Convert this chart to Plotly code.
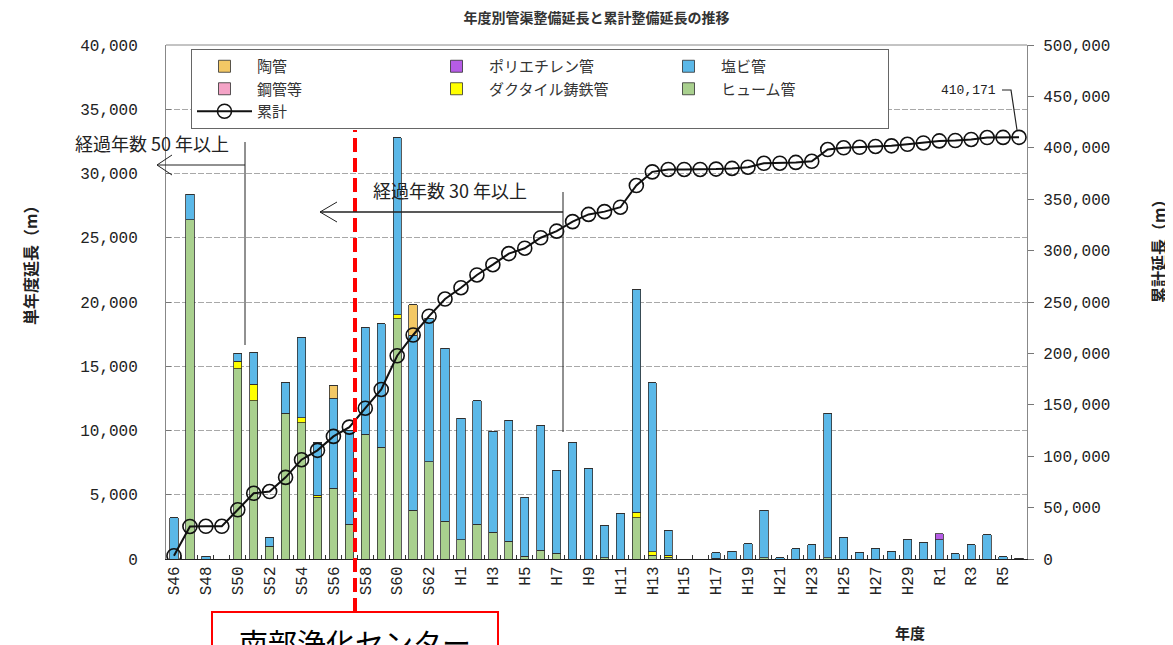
"""年度別管渠整備延長と累計整備延長の推移 (Plotly)."""

import plotly.graph_objects as go

# ---- data -----------------------------------------------------------------
YEARS = (
    [f"S{n}" for n in range(46, 64)]
    + [f"H{n}" for n in range(1, 31)]
    + [f"R{n}" for n in range(1, 7)]
)

# 単年度延長 (m) by pipe material
HUME = [0, 26400, 0, 0, 14800, 12300, 1000, 11350, 10600, 4800,
        5500, 2700, 9700, 8700, 18700, 3800, 7550, 2950,
        1500, 2700, 2100, 1400, 230, 700, 450, 0, 0, 100,
        0, 3200, 300, 150, 0, 0, 50, 0, 0, 100,
        0, 0, 0, 100, 0, 0, 0, 0, 0, 0,
        0, 0, 0, 0, 0, 0]
DUCTILE = [0, 0, 0, 0, 600, 1300, 0, 0, 400, 150,
           0, 0, 0, 0, 300, 0, 0, 0,
           0, 0, 0, 0, 0, 0, 0, 0, 0, 0,
           0, 450, 250, 150, 0, 0, 0, 0, 0, 0,
           0, 0, 0, 0, 0, 0, 0, 0, 0, 0,
           0, 0, 0, 0, 0, 0]
STEEL = [0] * 54
PVC = [3200, 2000, 200, 0, 600, 2500, 700, 2400, 6200, 4150,
       7000, 7300, 8350, 9600, 13800, 13600, 11200, 13450,
       9450, 9600, 7850, 9400, 4590, 9700, 6400, 9100, 7080, 2470,
       3580, 17350, 13150, 1950, 0, 0, 420, 620, 1170, 3700,
       100, 780, 1090, 11260, 1710, 540, 780, 620, 1480, 1320,
       1480, 390, 1090, 1870, 160, 70]
TOKAN = [0, 0, 0, 0, 0, 0, 0, 0, 0, 0,
         1000, 0, 0, 0, 0, 2400, 0, 0,
         0, 0, 0, 0, 0, 0, 0, 0, 0, 0,
         0, 0, 0, 0, 0, 0, 0, 0, 0, 0,
         0, 0, 0, 0, 0, 0, 0, 0, 0, 0,
         0, 0, 0, 0, 0, 0]
POLY = [0] * 48 + [470, 0, 0, 0, 0, 0]

# 累計延長 (m)
CUMULATIVE = [3220, 31620, 31820, 31820, 47850, 63950, 65650, 79420, 96610, 105710,
              119250, 128300, 146700, 164900, 197700, 217900, 236200, 252900,
              263900, 276300, 286300, 297100, 302300, 312500, 318900, 328200, 335200, 337900,
              342200, 363300, 376600, 378900, 378900, 378900, 379300, 379950, 381100, 384900,
              385000, 385800, 386900, 398300, 400000, 400500, 401300, 401900, 403400, 404700,
              406700, 407100, 408100, 410000, 410100, 410171]

TICK_TEXT = [y if i % 2 == 0 else "" for i, y in enumerate(YEARS)]
LEFT_TICKS = list(range(0, 40001, 5000))
RIGHT_TICKS = list(range(0, 500001, 50000))

# ---- layout helpers -------------------------------------------------------
# page is 1173x645; the html body adds an 8px margin, so the figure is shrunk by it
PAGE_W, PAGE_H, OFF = 1173, 645, 8
W, H = PAGE_W - OFF, PAGE_H - OFF
PLOT_L, PLOT_R, PLOT_T, PLOT_B = 166, 1027, 45, 559   # page pixels
JP = "Noto Sans CJK JP"
NUM = "Liberation Mono"


def px(x):
    return (x - PLOT_L) / (PLOT_R - PLOT_L)


def py(y):
    return (PLOT_B - y) / (PLOT_B - PLOT_T)


fig = go.Figure()

bar_style = dict(marker_line_color="#2f2f2f", marker_line_width=0.8)
stack = [
    ("ヒューム管", HUME, "#a9d08e", 6),
    ("ダクタイル鋳鉄管", DUCTILE, "#ffff00", 5),
    ("鋼管等", STEEL, "#f4a3c6", 4),
    ("塩ビ管", PVC, "#5bb8e8", 3),
    ("陶管", TOKAN, "#f3c865", 1),
    ("ポリエチレン管", POLY, "#b65ce6", 2),
]
for name, values, color, rank in stack:
    fig.add_trace(go.Bar(x=YEARS, y=values, name=name, marker_color=color,
                         legendrank=rank, **bar_style))

fig.add_trace(
    go.Scatter(
        x=YEARS, y=CUMULATIVE, name="累計", yaxis="y2", mode="lines+markers",
        line=dict(color="#111111", width=2),
        marker=dict(symbol="circle-open", size=14, color="#111111", line=dict(width=1.6)),
        legendrank=7,
    )
)

shapes = [
    # top frame line
    dict(type="line", xref="paper", yref="paper", x0=0, x1=1, y0=1, y1=1,
         line=dict(color="#888888", width=1)),
    # 南部浄化センター marker
    dict(type="line", xref="paper", yref="paper", x0=px(355), x1=px(355), y0=py(612), y1=py(130),
         line=dict(color="#ff0000", width=4, dash="14px,6px")),
    dict(type="rect", xref="paper", yref="paper", x0=px(212), x1=px(498), y0=py(670), y1=py(612),
         line=dict(color="#ff0000", width=2), fillcolor="white"),
    # 経過年数 50 年以上
    dict(type="line", xref="paper", yref="paper", x0=px(157), x1=px(245), y0=py(165), y1=py(165),
         line=dict(color="#222222", width=1)),
    dict(type="line", xref="paper", yref="paper", x0=px(245), x1=px(245), y0=py(142), y1=py(345),
         line=dict(color="#222222", width=1)),
    dict(type="path", xref="paper", yref="paper",
         path=f"M {px(172)},{py(155)} L {px(157)},{py(165)} L {px(172)},{py(175)}",
         line=dict(color="#222222", width=1)),
    # 経過年数 30 年以上
    dict(type="line", xref="paper", yref="paper", x0=px(320), x1=px(563), y0=py(212), y1=py(212),
         line=dict(color="#222222", width=1.3)),
    dict(type="line", xref="paper", yref="paper", x0=px(563), x1=px(563), y0=py(192), y1=py(432),
         line=dict(color="#222222", width=1)),
    dict(type="path", xref="paper", yref="paper",
         path=f"M {px(337)},{py(202)} L {px(320)},{py(212)} L {px(337)},{py(222)}",
         line=dict(color="#222222", width=1)),
    # leader for final value
    dict(type="path", xref="paper", yref="paper",
         path=f"M {px(1002)},{py(90)} L {px(1011)},{py(90)} L {px(1017)},{py(130)}",
         line=dict(color="#222222", width=1.2)),
]


def note(text, x, y, size, angle=0, family=JP, color="#222222"):
    return dict(text=text, xref="paper", yref="paper", x=px(x), y=py(y), showarrow=False,
                textangle=angle, xanchor="center", yanchor="middle",
                font=dict(family=family, size=size, color=color))


annotations = [
    note("経過年数 50 年以上", 152, 143, 18),
    note("経過年数 30 年以上", 450, 190, 18),
    note("410,171", 968, 90, 13, family=NUM),
    note("南部浄化センター", 355, 642, 29, color="#000000"),
    note("<b>年度</b>", 910, 632, 15),
    note("<b>単年度延長（m）</b>", 30, 262, 16, angle=-90),
    note("<b>累計延長（m）</b>", 1158, 248, 16, angle=-90),
]

fig.update_layout(
    width=W, height=H,
    margin=dict(l=PLOT_L - OFF, r=PAGE_W - PLOT_R, t=PLOT_T - OFF, b=PAGE_H - PLOT_B,
                autoexpand=False),
    paper_bgcolor="white", plot_bgcolor="white",
    barmode="stack", bargap=0.48,
    font=dict(family=JP, size=14, color="#222222"),
    title=dict(text="<b>年度別管渠整備延長と累計整備延長の推移</b>",
               x=(596.5 - OFF) / W, xanchor="center",
               y=1 - (18 - OFF) / H, yanchor="middle",
               font=dict(family=JP, size=14, color="#333333")),
    legend=dict(
        orientation="h", traceorder="normal",
        x=px(191), y=py(49), xanchor="left", yanchor="top",
        bgcolor="white", bordercolor="#666666", borderwidth=1,
        entrywidth=162, entrywidthmode="pixels", itemwidth=55,
        font=dict(family=JP, size=15, color="#333333"),
    ),
    shapes=shapes,
    annotations=annotations,
    showlegend=True,
)

fig.update_xaxes(
    type="category", categoryorder="array", categoryarray=YEARS,
    range=[-0.5, len(YEARS) - 0.5],
    tickmode="array", tickvals=YEARS, ticktext=TICK_TEXT, tickangle=-90,
    tickson="boundaries", ticks="inside", ticklen=4, tickcolor="#333333",
    showline=True, linecolor="#222222", linewidth=1.2, showgrid=False,
    tickfont=dict(family=NUM, size=16, color="#222222"),
)
fig.update_layout(
    yaxis=dict(
        range=[0, 40000], tickmode="array", tickvals=LEFT_TICKS, tickformat=",",
        ticks="inside", ticklen=5, tickcolor="#777777", ticklabelstandoff=24,
        showline=True, linecolor="#888888", linewidth=1,
        showgrid=True, gridcolor="#a8a8a8", gridwidth=1, griddash="6px,2px",
        zeroline=False, tickfont=dict(family=NUM, size=16, color="#222222"),
    ),
    yaxis2=dict(
        overlaying="y", side="right", range=[0, 500000], tickmode="array",
        tickvals=RIGHT_TICKS, tickformat=",", ticks="outside", ticklen=6, tickcolor="#777777",
        ticklabelstandoff=6,
        showline=True, linecolor="#888888", linewidth=1, showgrid=False, zeroline=False,
        tickfont=dict(family=NUM, size=16, color="#222222"),
    ),
)

fig.write_html("out.html")
